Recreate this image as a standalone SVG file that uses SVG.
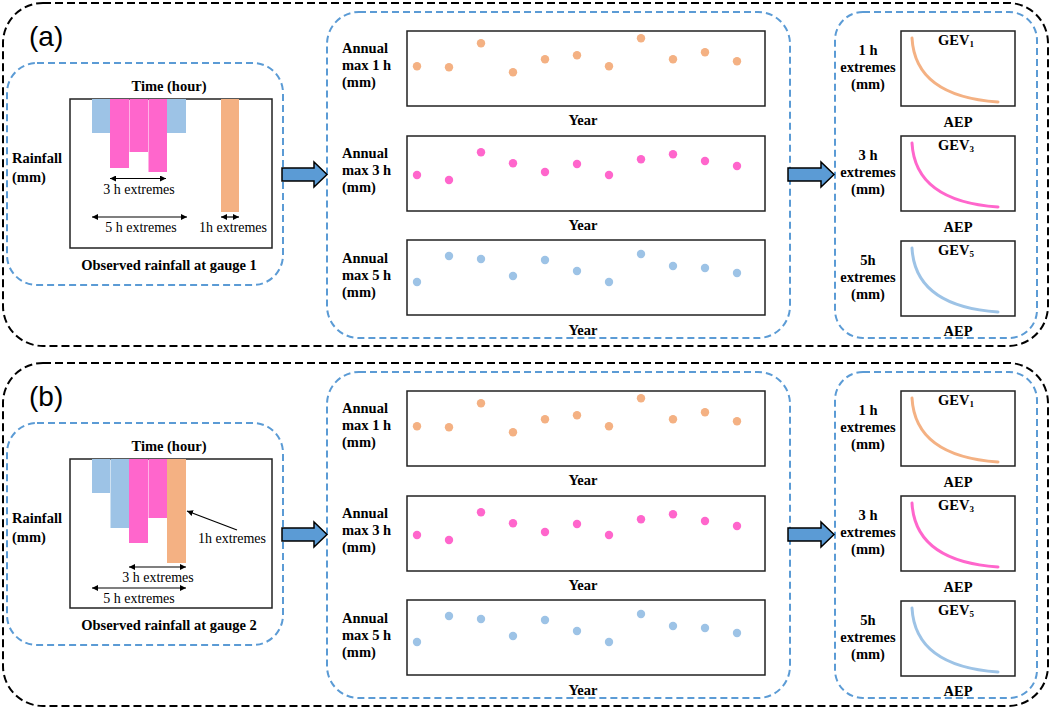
<svg xmlns="http://www.w3.org/2000/svg" xmlns:xlink="http://www.w3.org/1999/xlink" width="1052" height="710" viewBox="0 0 1052 710">
<style>
.outer{fill:none;stroke:#000;stroke-width:2;stroke-dasharray:8 4}
.box{fill:none;stroke:#5B9BD5;stroke-width:2;stroke-dasharray:7 4}
.frame{fill:#fff;stroke:#222;stroke-width:1.5}
.lbl{font-family:"Liberation Serif","Times New Roman",serif;font-weight:bold;font-size:14.5px;fill:#000}
.norm{font-family:"Liberation Serif","Times New Roman",serif;font-size:14px;fill:#000}
.tag{font-family:"Liberation Sans",Arial,sans-serif;font-size:28px;fill:#000}
.mid{text-anchor:middle}
.o{fill:#F4B183}.p{fill:#FF66CC}.b{fill:#9DC3E6}
.arrow{fill:#5B9BD5;stroke:#000;stroke-width:1.5;stroke-linejoin:miter}
.dim{stroke:#000;stroke-width:1.2;fill:none}
.curve{fill:none;stroke-width:3;stroke-linecap:round}
</style>
<defs>
<marker id="ah" viewBox="0 0 10 10" refX="10" refY="5" markerWidth="6" markerHeight="6" orient="auto-start-reverse" markerUnits="userSpaceOnUse">
<path d="M0,0 L10,5 L0,10 z" fill="#000"/>
</marker>
<g id="series">
<g id="s1">
<rect class="frame" x="407" y="31" width="358" height="75"/>
<text class="lbl" x="342" y="53">Annual</text>
<text class="lbl" x="342" y="70">max 1 h</text>
<text class="lbl" x="342" y="87">(mm)</text>
<text class="lbl mid" x="583" y="125">Year</text>
<g class="o">
<circle cx="417" cy="66.3" r="4.2"/><circle cx="449" cy="67.3" r="4.2"/><circle cx="481" cy="43.3" r="4.2"/><circle cx="513" cy="72.3" r="4.2"/><circle cx="545" cy="59.3" r="4.2"/><circle cx="577" cy="55.3" r="4.2"/><circle cx="609" cy="66.3" r="4.2"/><circle cx="641" cy="38.3" r="4.2"/><circle cx="673" cy="59.3" r="4.2"/><circle cx="705" cy="52.3" r="4.2"/><circle cx="737" cy="61.3" r="4.2"/>
</g>
</g>
<g id="s3">
<rect class="frame" x="407" y="136" width="358" height="75"/>
<text class="lbl" x="342" y="158">Annual</text>
<text class="lbl" x="342" y="175">max 3 h</text>
<text class="lbl" x="342" y="192">(mm)</text>
<text class="lbl mid" x="583" y="230">Year</text>
<g class="p">
<circle cx="417" cy="175" r="4.2"/><circle cx="449" cy="180" r="4.2"/><circle cx="481" cy="152.3" r="4.2"/><circle cx="513" cy="163.3" r="4.2"/><circle cx="545" cy="172" r="4.2"/><circle cx="577" cy="164" r="4.2"/><circle cx="609" cy="175" r="4.2"/><circle cx="641" cy="159.3" r="4.2"/><circle cx="673" cy="154.3" r="4.2"/><circle cx="705" cy="161" r="4.2"/><circle cx="737" cy="166" r="4.2"/>
</g>
</g>
<g id="s5">
<rect class="frame" x="407" y="240" width="358" height="75"/>
<text class="lbl" x="342" y="263">Annual</text>
<text class="lbl" x="342" y="280">max 5 h</text>
<text class="lbl" x="342" y="297">(mm)</text>
<text class="lbl mid" x="583" y="335">Year</text>
<g class="b">
<circle cx="417" cy="282" r="4.2"/><circle cx="449" cy="256" r="4.2"/><circle cx="481" cy="259" r="4.2"/><circle cx="513" cy="276" r="4.2"/><circle cx="545" cy="260" r="4.2"/><circle cx="577" cy="271" r="4.2"/><circle cx="609" cy="282" r="4.2"/><circle cx="641" cy="254" r="4.2"/><circle cx="673" cy="266" r="4.2"/><circle cx="705" cy="268" r="4.2"/><circle cx="737" cy="273" r="4.2"/>
</g>
</g>
</g>
<g id="gevs">
<g id="g1">
<rect class="frame" x="901" y="31" width="114" height="75"/>
<path class="curve" stroke="#F4B183" d="M912,38 C914,75 940,98 998,102"/>
<text class="lbl mid" x="956" y="45">GEV<tspan font-size="9" dy="2">1</tspan></text>
<text class="lbl mid" x="868" y="55">1 h</text>
<text class="lbl mid" x="868" y="72">extremes</text>
<text class="lbl mid" x="868" y="89">(mm)</text>
<text class="lbl mid" x="958" y="127">AEP</text>
</g>
<g id="g3">
<rect class="frame" x="901" y="136" width="114" height="75"/>
<path class="curve" stroke="#FF66CC" d="M912,143 C914,180 940,203 998,207"/>
<text class="lbl mid" x="956" y="150">GEV<tspan font-size="9" dy="2">3</tspan></text>
<text class="lbl mid" x="868" y="160">3 h</text>
<text class="lbl mid" x="868" y="177">extremes</text>
<text class="lbl mid" x="868" y="194">(mm)</text>
<text class="lbl mid" x="958" y="232">AEP</text>
</g>
<g id="g5">
<rect class="frame" x="901" y="241" width="114" height="75"/>
<path class="curve" stroke="#9DC3E6" d="M912,248 C914,285 940,308 998,312"/>
<text class="lbl mid" x="956" y="255">GEV<tspan font-size="9" dy="2">5</tspan></text>
<text class="lbl mid" x="868" y="265">5h</text>
<text class="lbl mid" x="868" y="282">extremes</text>
<text class="lbl mid" x="868" y="299">(mm)</text>
<text class="lbl mid" x="958" y="336">AEP</text>
</g>
</g>
</defs>

<!-- Panel (a) -->
<g id="panel-a">
<rect class="outer" x="3" y="3" width="1045" height="343" rx="40"/>
<text class="tag" x="29" y="46">(a)</text>
</g>
<g id="gauge1">
<rect class="box" x="7" y="63" width="276" height="222" rx="30"/>
<rect class="frame" x="70" y="99" width="202" height="149"/>
<rect class="b" x="92" y="99" width="18" height="34"/>
<rect class="p" x="110" y="99" width="19" height="69"/>
<rect class="p" x="129.5" y="99" width="18.5" height="53"/>
<rect class="p" x="148.5" y="99" width="18.5" height="73"/>
<rect class="b" x="167" y="99" width="19" height="34"/>
<rect class="o" x="221" y="99" width="18" height="113"/>
<line class="dim" x1="110" y1="178.5" x2="166" y2="178.5" marker-start="url(#ah)" marker-end="url(#ah)"/>
<line class="dim" x1="92" y1="217" x2="187" y2="217" marker-start="url(#ah)" marker-end="url(#ah)"/>
<line class="dim" x1="221" y1="217" x2="239" y2="217" marker-start="url(#ah)" marker-end="url(#ah)"/>
<text class="norm mid" x="139" y="194">3 h extremes</text>
<text class="norm mid" x="141" y="232">5 h extremes</text>
<text class="norm mid" x="233" y="232">1h extremes</text>
<text class="lbl mid" x="169" y="91">Time (hour)</text>
<text class="lbl" x="12" y="163">Rainfall</text>
<text class="lbl" x="12" y="182">(mm)</text>
<text class="lbl mid" x="169" y="270">Observed rainfall at gauge 1</text>
</g>
<g id="series-a">
<rect class="box" x="327" y="12" width="463" height="326" rx="32"/>
<use xlink:href="#series"/>
</g>
<g id="gev-a">
<rect class="box" x="835" y="12" width="202" height="326" rx="28"/>
<use xlink:href="#gevs"/>
</g>

<!-- Panel (b) -->
<g id="panel-b">
<rect class="outer" x="3" y="363" width="1045" height="343" rx="40"/>
<text class="tag" x="29" y="406">(b)</text>
</g>
<g id="gauge2">
<rect class="box" x="7" y="423" width="276" height="222" rx="30"/>
<rect class="frame" x="70" y="459" width="202" height="149"/>
<rect class="b" x="92" y="459" width="18" height="34"/>
<rect class="b" x="110.5" y="459" width="18.5" height="69"/>
<rect class="p" x="129" y="459" width="19" height="84"/>
<rect class="p" x="148.5" y="459" width="18.5" height="59"/>
<rect class="o" x="167" y="459" width="19" height="104"/>
<line class="dim" x1="129" y1="567" x2="186" y2="567" marker-start="url(#ah)" marker-end="url(#ah)"/>
<line class="dim" x1="92" y1="588" x2="186" y2="588" marker-start="url(#ah)" marker-end="url(#ah)"/>
<line class="dim" x1="237" y1="530" x2="187" y2="511" marker-end="url(#ah)"/>
<text class="norm mid" x="232" y="543">1h extremes</text>
<text class="norm mid" x="158" y="582">3 h  extremes</text>
<text class="norm mid" x="139" y="603">5 h extremes</text>
<text class="lbl mid" x="169" y="451">Time (hour)</text>
<text class="lbl" x="12" y="523">Rainfall</text>
<text class="lbl" x="12" y="542">(mm)</text>
<text class="lbl mid" x="169" y="630">Observed rainfall at gauge 2</text>
</g>
<g id="series-b">
<rect class="box" x="327" y="372" width="463" height="326" rx="32"/>
<use xlink:href="#series" transform="translate(0,360)"/>
</g>
<g id="gev-b">
<rect class="box" x="835" y="372" width="202" height="326" rx="28"/>
<use xlink:href="#gevs" transform="translate(0,360)"/>
</g>

<!-- Connectors -->
<g id="connectors">
<path class="arrow" d="M282,168 L314,168 L314,162 L327,174.5 L314,187 L314,181 L282,181 z"/>
<path class="arrow" d="M788,168 L821,168 L821,162 L834,174.5 L821,187 L821,181 L788,181 z"/>
<path class="arrow" d="M282,528 L314,528 L314,522 L327,534.5 L314,547 L314,541 L282,541 z"/>
<path class="arrow" d="M788,528 L821,528 L821,522 L834,534.5 L821,547 L821,541 L788,541 z"/>
</g>
</svg>
